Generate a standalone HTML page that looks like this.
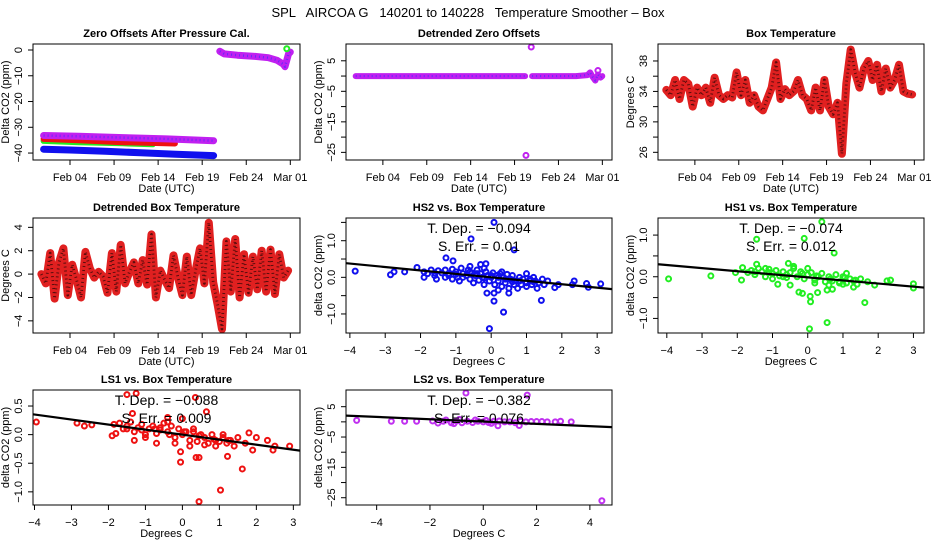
<!DOCTYPE html>
<html><head><meta charset="utf-8"><style>
html,body{margin:0;padding:0;background:#fff;}
svg{display:block;font-family:"Liberation Sans",sans-serif;}
.pre{white-space:pre;}
</style></head><body>
<svg id="chart" width="936" height="540" viewBox="0 0 936 540">
<text class="pre" x="468" y="17" text-anchor="middle" font-size="13">SPL   AIRCOA G   140201 to 140228   Temperature Smoother – Box</text>
</svg>
<script>
// ---------- data ----------
const dateTicks=[4,9,14,19,24,29];
const dateLabels=['Feb 04','Feb 09','Feb 14','Feb 19','Feb 24','Mar 01'];
// Panel 1: zero offsets (null = gap)
const zoT_purple=[1,5,10,15,20.3,null,21,21.5,23,25,26.5,27.5,28.2,28.4,28.8,29];
const zoV_purple=[-33.2,-33.5,-34,-34.5,-35.2,null,-0.5,-1.5,-2,-2.5,-3,-4,-5.5,-6.5,-1.5,-0.8];
const zoT_red=[1,5,10,15.9];
const zoV_red=[-34.5,-35,-35.8,-36.3];
const zoT_green=[1,5,10,13.4];
const zoV_green=[-35.3,-35.8,-36.2,-36.6];
const zoT_blue=[1,4,8,12,16,20.3];
const zoV_blue=[-38.5,-38.8,-39.3,-39.9,-40.5,-41];
const zoT_greenPt=[28.6];
const zoV_greenPt=[0.5];
// Panel 2: detrended zero offsets
const dzT=[0.9,5,10,15,20.2,null,21,23,26,27.3,27.6,27.9,28.2,28.5,28.8,29];
const dzV=[0,0,0,0,0,null,0,0,0,0.3,1.2,-0.3,-1.5,0.5,-0.5,0];
const dzOutT=[20.3,20.9,28.5];
const dzOutV=[-26,9.5,1.8];
// Panel 3/4: box temperature at half-day steps from t0
const btStart=0.75, btStep=0.5;
const boxTemp=[34.2,33.5,35.5,33,35.5,35,32,34.5,33.5,34.5,32.5,35.8,33.5,33,33.5,33.2,36.5,33.5,35.5,32.5,33.5,32,31.5,33,34.5,37.8,33,34.3,33.5,34,35.5,33.5,33,31.5,34.5,31.5,35.5,32,31,32.5,25.8,35,39.5,36.5,34.5,37,38,35.5,37.5,34,37,34.5,35.5,37.5,34,33.7,33.6];
const detBox=[0,-0.8,1.8,-2.1,1,2.2,-1.8,0.8,-0.5,-2,1.9,0.5,-0.3,0.2,-0.2,-1.6,1.8,-1.5,2.5,-0.8,0.2,1,-0.8,1.2,-0.9,3.4,-2,0.3,-0.5,-1.2,1.6,-0.3,-1.8,1.5,-1.8,0.3,2.2,-0.8,4.4,-0.7,-2.6,-4.7,2.8,-1.5,3,-2,1.7,-1.6,1.5,-1.3,2,-1.5,2.1,-1.7,1.7,-0.3,0.3];
// Scatter: HS2
const hs2X=[-3.85,-2.85,-2.75,-2.45,-2.1,-1.28,-1.08,-0.57,0.08,0.65,-0.12,0.08,0.08,0.35,-0.05,1.42,0.5,2.35,2.7,2.75,3.1,1.8,1.9,2.3,-0.3,-0.15,-0.6,-1.9,-1.9,-1.8,-1.7,-1.6,-1.55,-1.5,-1.4,-1.3,-1.3,-1.2,-1.1,-1.1,-1.0,-0.95,-0.9,-0.85,-0.8,-0.7,-0.65,-0.6,-0.55,-0.5,-0.45,-0.4,-0.35,-0.3,-0.25,-0.2,-0.15,-0.1,-0.05,0,0.05,0.1,0.15,0.2,0.25,0.3,0.35,0.4,0.45,0.5,0.55,0.6,0.65,0.7,0.8,0.85,0.9,1.0,1.0,1.1,1.15,1.2,1.25,1.3,1.35,1.45,1.5,1.6,1.0,0.3,-0.2,0.75,0.2,-1.6,-1.2,-0.8,-0.4,0.0,0.4,0.8,1.2,-1.0,-0.6,-0.2,0.2,0.6,1.1];
const hs2Y=[0.17,0.07,0.15,0.15,0.27,0.53,0.45,1.05,1.5,0.75,-0.43,-0.43,-0.65,-0.95,-1.4,-0.63,-0.43,-0.1,-0.17,-0.27,-0.18,-0.28,-0.2,-0.2,0.35,0.37,0.3,0.15,0.0,0.1,0.2,0.05,-0.05,0.18,0.12,0.2,0.0,0.1,0.22,-0.05,0.15,0.0,-0.1,0.25,0.1,0.05,0.2,-0.05,0.12,-0.15,0.05,0.2,-0.08,0.1,0.0,-0.2,0.15,0.05,-0.1,0.0,0.12,-0.2,0.05,-0.1,0.1,-0.25,0.0,-0.15,0.08,-0.3,-0.05,0.05,-0.2,-0.1,0.0,-0.2,-0.05,0.1,-0.15,-0.05,-0.2,0.0,-0.1,-0.3,-0.15,-0.05,-0.2,-0.1,-0.25,0.15,0.25,-0.3,-0.35,0.12,0.05,0.0,0.1,0.05,-0.05,-0.1,-0.12,0.08,0.15,-0.02,0.0,-0.12,-0.1];
const hs2Fit=[-0.094,0.0];
// HS1
const hs1X=[-3.95,-2.75,-2.05,-1.88,-1.45,-1.45,-0.85,-0.55,-0.1,0.4,0.75,-0.25,-0.15,0.07,0.08,0.05,0.28,0.55,0.55,1.62,1.9,2.25,2.35,3.0,3.0,-0.5,0.7,1.3,1.0,-1.2,-1.85,-1.7,-1.6,-1.5,-1.4,-1.3,-1.2,-1.1,-1.0,-0.9,-0.8,-0.7,-0.6,-0.5,-0.4,-0.3,-0.2,-0.1,0,0.1,0.2,0.3,0.4,0.5,0.6,0.7,0.8,0.9,1.0,1.1,1.2,1.3,1.4,1.5,1.7,-1.0,-0.4,0.2,0.6,1.1,-0.7,0.0,0.9,-1.5,-1.1,-0.6,-0.15,0.25,0.65,1.05,1.35];
const hs1Y=[-0.05,0.02,0.1,-0.08,0.9,0.3,-0.18,0.32,0.92,1.32,0.57,-0.37,-0.4,-0.47,-0.6,-1.25,-0.38,-1.1,-0.32,-0.62,-0.2,-0.1,-0.08,-0.17,-0.27,-0.2,-0.3,-0.25,-0.18,0.2,0.22,0.1,0.15,0.05,0.2,0.12,0.0,0.18,0.08,0.15,0.02,0.12,-0.02,0.1,0.2,0.0,0.12,-0.05,0.05,0.1,-0.08,0.0,0.08,-0.12,0.0,-0.1,0.05,-0.12,0.0,-0.15,-0.05,-0.1,-0.18,-0.05,-0.12,-0.05,0.25,-0.15,-0.2,0.08,0.0,0.2,-0.15,0.12,0.1,0.05,0.08,0.02,-0.05,-0.02,-0.08];
const hs1Fit=[-0.074,-0.015];
// LS1
const ls1X=[-3.95,-2.85,-2.65,-2.45,-1.9,-1.8,-1.5,-1.35,-1.3,-1.25,-0.7,0.35,0.65,-0.05,-0.05,0.37,0.45,0.45,1.03,1.62,1.22,1.9,2.3,2.45,2.5,2.9,1.8,2.0,0.0,-0.4,-1.85,-1.7,-1.6,-1.5,-1.4,-1.3,-1.2,-1.1,-1.0,-0.9,-0.8,-0.7,-0.6,-0.5,-0.4,-0.3,-0.2,-0.1,0,0.1,0.2,0.3,0.4,0.5,0.6,0.7,0.8,0.9,1.0,1.1,1.2,1.3,1.4,1.5,1.7,-1.0,-0.4,0.2,0.6,1.1,-0.6,-0.2,0.9,0.3,-1.5,-1.1,-0.75,-0.35,0.05,0.45,0.85,1.25];
const ls1Y=[0.22,0.2,0.15,0.17,-0.02,0.02,0.7,0.37,-0.1,0.72,-0.15,0.65,0.4,-0.3,-0.48,-0.4,-0.4,-1.17,-0.97,-0.6,-0.38,-0.27,-0.1,-0.27,-0.2,-0.2,0.03,-0.05,0.28,0.3,0.18,0.2,0.1,0.15,0.22,0.05,0.12,0.18,0.0,0.1,0.15,0.02,0.12,0.2,0.05,0.15,-0.05,0.1,0.0,0.05,-0.1,0.05,-0.12,0.0,-0.05,-0.15,0.0,-0.1,-0.12,-0.05,-0.15,-0.1,-0.2,-0.05,-0.15,-0.05,0.22,-0.2,-0.18,0.0,0.08,-0.15,-0.2,0.1,0.1,0.08,0.1,0.0,0.05,-0.02,-0.08,-0.1];
const ls1Fit=[-0.088,0.0];
// LS2
const ls2X=[-4.75,-3.45,-2.95,-2.5,-0.65,1.65,4.45,3.3,2.9,2.7,0.55,1.35,-1.9,-1.7,-1.5,-1.2,-1.0,-0.8,-0.6,-0.4,-0.2,0,0.2,0.4,0.6,0.8,1.0,1.2,1.4,1.6,1.8,2.0,2.2,2.4,-1.4,-0.9,-0.3,0.1,0.3,-1.1];
const ls2Y=[0.5,0.2,0.2,0.2,9.5,8.8,-26,0,0.2,0,-1.3,-1.2,0.3,-0.4,0.2,-0.3,0.3,-0.3,0.2,-0.2,0.2,0,-0.2,0.2,0.3,0,0,-0.3,0.2,0,0.1,0.1,0.1,0,0.6,0.8,0.6,0.5,-0.5,-0.6];
const ls2Fit=[-0.382,0.1];

// ---------- drawing ----------
const NS='http://www.w3.org/2000/svg';
const svg=document.getElementById('chart');
function mk(tag,attrs,parent,name,inter){
  const el=document.createElementNS(NS,tag);
  for(const k in attrs) el.setAttribute(k,attrs[k]);
  
  
  (parent||svg).appendChild(el);
  return el;
}
function panel(c){
  const g=mk('g',{},svg,c.name+'-panel',false);
  const [l,t,r,b]=c.box;
  const sx=v=>l+(v-c.xd[0])/(c.xd[1]-c.xd[0])*(r-l);
  const sy=v=>b-(v-c.yd[0])/(c.yd[1]-c.yd[0])*(b-t);
  const clip='clip-'+c.name;
  const cp=mk('clipPath',{id:clip},g,c.name+'-clip',false);
  mk('rect',{x:l,y:t,width:r-l,height:b-t},cp,c.name+'-clip-rect',false);
  const plot=mk('g',{'clip-path':'url(#'+clip+')'},g,c.name+'-plot-area',false);
  mk('text',{x:(l+r)/2,y:t-7,'text-anchor':'middle','font-size':11,'font-weight':'bold'},g,c.name+'-title',false).textContent=c.title;
  mk('rect',{x:l,y:t,width:r-l,height:b-t,fill:'none',stroke:'#000','stroke-width':1},g,c.name+'-frame',false);
  c.xticks.forEach((v,i)=>{const x=sx(v);
    mk('line',{x1:x,x2:x,y1:b,y2:b+5,stroke:'#000'},g,c.name+'-x-tick',false);
    mk('text',{x:x,y:b+21,'text-anchor':'middle','font-size':11},g,c.name+'-x-tick-label',false).textContent=c.xlabels[i];});
  c.yticks.forEach((v,i)=>{const y=sy(v);
    mk('line',{x1:l-5,x2:l,y1:y,y2:y,stroke:'#000'},g,c.name+'-y-tick',false);
    if(c.ylabels[i]!==''){const tx=mk('text',{x:l-11,y:y,'text-anchor':'middle','font-size':11,transform:'rotate(-90 '+(l-11)+' '+y+')'},g,c.name+'-y-tick-label',false);tx.textContent=c.ylabels[i];}});
  mk('text',{x:(l+r)/2,y:b+32,'text-anchor':'middle','font-size':11},g,c.name+'-x-axis-title',false).textContent=c.xtitle;
  const yt=mk('text',{x:l-24,y:(t+b)/2,'text-anchor':'middle','font-size':11,transform:'rotate(-90 '+(l-24)+' '+((t+b)/2)+')'},g,c.name+'-y-axis-title',false);
  yt.textContent=c.ytitle;
  return {plot,sx,sy,g,l,t,r,b};
}
function band(P,ts,vs,color,w,dot,name){
  let segs=[],cur=[];
  ts.forEach((tv,i)=>{if(tv===null||vs[i]===null){if(cur.length)segs.push(cur);cur=[];}else cur.push(P.sx(tv).toFixed(1)+','+P.sy(vs[i]).toFixed(1));});
  if(cur.length)segs.push(cur);
  segs.forEach(s=>{
    if(s.length===1)s.push(s[0]);
    mk('polyline',{points:s.join(' '),fill:'none',stroke:color,'stroke-width':w,'stroke-linejoin':'round','stroke-linecap':'round'},P.plot,name,false);
    if(dot)mk('polyline',{points:s.join(' '),fill:'none',stroke:dot,'stroke-width':w*0.35,'stroke-dasharray':'1 3','stroke-opacity':0.6,'stroke-linejoin':'round'},P.plot,name+'-texture',false);
  });
}
function pts(P,xs,ys,color,name){
  xs.forEach((x,i)=>{mk('circle',{cx:P.sx(x),cy:P.sy(ys[i]),r:2.5,fill:'none',stroke:color,'stroke-width':2},P.plot,name,false);});
}
function fit(P,f,xd,name){
  mk('line',{x1:P.sx(xd[0]),y1:P.sy(f[0]*xd[0]+f[1]),x2:P.sx(xd[1]),y2:P.sy(f[0]*xd[1]+f[1]),stroke:'#000','stroke-width':2.2},P.plot,name,false);
}
function ann(P,lines,name){
  lines.forEach((s,i)=>{mk('text',{x:(P.l+P.r)/2,y:P.t+15+i*18,'text-anchor':'middle','font-size':14},P.g,name,false).textContent=s;});
}
const TD=[-0.2,30.1];
// Panel 1
let P=panel({name:'zero-offsets',box:[33,44,300,160],xd:TD,yd:[-42.7,2.33],xticks:dateTicks,xlabels:dateLabels,yticks:[0,-10,-20,-30,-40],ylabels:['0','\u221210','\u221220','\u221230','\u221240'],title:'Zero Offsets After Pressure Cal.',xtitle:'Date (UTC)',ytitle:'Delta CO2 (ppm)'});
band(P,zoT_blue,zoV_blue,'#1010ee',7,null,'hs2-series');
band(P,zoT_green,zoV_green,'#22ee22',6,null,'hs1-series');
band(P,zoT_red,zoV_red,'#ee1111',6,null,'ls1-series');
band(P,zoT_purple,zoV_purple,'#c020f0',7,'#3030ff','ls2-series');
pts(P,zoT_greenPt,zoV_greenPt,'#22ee22','hs1-point');
// Panel 2
P=panel({name:'detrended-zero',box:[346,44,612,160],xd:TD,yd:[-27.5,10.5],xticks:dateTicks,xlabels:dateLabels,yticks:[5,0,-5,-10,-15,-20,-25],ylabels:['5','','\u22125','','\u221215','','\u221225'],title:'Detrended Zero Offsets',xtitle:'Date (UTC)',ytitle:'Delta CO2 (ppm)'});
band(P,dzT,dzV,'#c020f0',6,'#3030ff','detrended-series');
pts(P,dzOutT,dzOutV,'#c020f0','detrended-outlier');
// Panel 3
const btT=boxTemp.map((v,i)=>btStart+i*btStep);
P=panel({name:'box-temp',box:[658,44,924,160],xd:TD,yd:[24.99,40.23],xticks:dateTicks,xlabels:dateLabels,yticks:[26,28,30,32,34,36,38],ylabels:['26','','30','','34','','38'],title:'Box Temperature',xtitle:'Date (UTC)',ytitle:'Degrees C'});
band(P,btT,boxTemp,'#e02020',8,'#000','box-temp-series');
// Panel 4
const dbT=detBox.map((v,i)=>btStart+i*btStep);
P=panel({name:'detrended-box-temp',box:[33,218,300,333],xd:TD,yd:[-5.04,4.8],xticks:dateTicks,xlabels:dateLabels,yticks:[4,2,0,-2,-4],ylabels:['4','2','0','\u22122','\u22124'],title:'Detrended Box Temperature',xtitle:'Date (UTC)',ytitle:'Degrees C'});
band(P,dbT,detBox,'#e02020',8,'#000','detrended-box-series');
// Panel 5
P=panel({name:'hs2-scatter',box:[346,218,612,333],xd:[-4.11,3.42],yd:[-1.52,1.62],xticks:[-4,-3,-2,-1,0,1,2,3],xlabels:['\u22124','\u22123','\u22122','\u22121','0','1','2','3'],yticks:[-1,-0.5,0,0.5,1,1.5],ylabels:['\u22121.0','','0.0','','1.0',''],title:'HS2 vs. Box Temperature',xtitle:'Degrees C',ytitle:'delta CO2 (ppm)'});
pts(P,hs2X,hs2Y,'#1010ee','hs2-point');
fit(P,hs2Fit,[-4.11,3.42],'hs2-fit-line');
ann(P,['T. Dep. =  \u22120.094','S. Err. =  0.01'],'hs2-annotation');
// Panel 6
P=panel({name:'hs1-scatter',box:[658,218,924,333],xd:[-4.25,3.3],yd:[-1.35,1.41],xticks:[-4,-3,-2,-1,0,1,2,3],xlabels:['\u22124','\u22123','\u22122','\u22121','0','1','2','3'],yticks:[-1,-0.5,0,0.5,1],ylabels:['\u22121.0','','0.0','','1.0'],title:'HS1 vs. Box Temperature',xtitle:'Degrees C',ytitle:'delta CO2 (ppm)'});
pts(P,hs1X,hs1Y,'#22ee22','hs1-point');
fit(P,hs1Fit,[-4.25,3.3],'hs1-fit-line');
ann(P,['T. Dep. =  \u22120.074','S. Err. =  0.012'],'hs1-annotation');
// Panel 7
P=panel({name:'ls1-scatter',box:[33,390,300,505],xd:[-4.04,3.18],yd:[-1.23,0.78],xticks:[-4,-3,-2,-1,0,1,2,3],xlabels:['\u22124','\u22123','\u22122','\u22121','0','1','2','3'],yticks:[-1,-0.5,0,0.5],ylabels:['\u22121.0','\u22120.5','0.0','0.5'],title:'LS1 vs. Box Temperature',xtitle:'Degrees C',ytitle:'delta CO2 (ppm)'});
pts(P,ls1X,ls1Y,'#ee1111','ls1-point');
fit(P,ls1Fit,[-4.04,3.18],'ls1-fit-line');
ann(P,['T. Dep. =  \u22120.088','S. Err. =  0.009'],'ls1-annotation');
// Panel 8
P=panel({name:'ls2-scatter',box:[346,390,612,505],xd:[-5.15,4.83],yd:[-27.4,10.5],xticks:[-4,-2,0,2,4],xlabels:['\u22124','\u22122','0','2','4'],yticks:[5,0,-5,-10,-15,-20,-25],ylabels:['5','','\u22125','','\u221215','','\u221225'],title:'LS2 vs. Box Temperature',xtitle:'Degrees C',ytitle:'delta CO2 (ppm)'});
pts(P,ls2X,ls2Y,'#c030f0','ls2-point');
fit(P,ls2Fit,[-5.15,4.83],'ls2-fit-line');
ann(P,['T. Dep. =  \u22120.382','S. Err. =  0.076'],'ls2-annotation');
</script>
</body></html>
